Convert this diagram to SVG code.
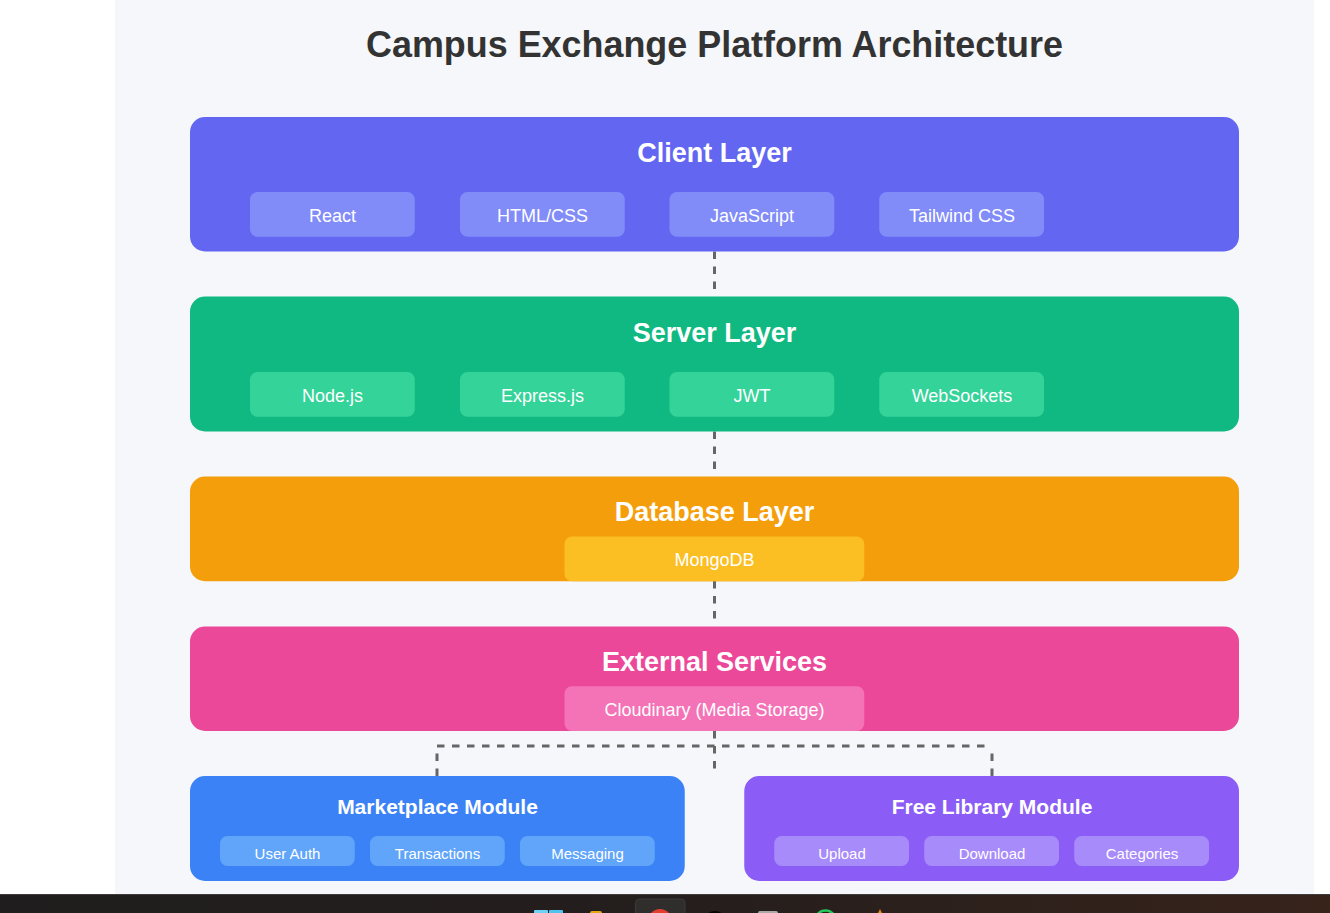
<svg xmlns="http://www.w3.org/2000/svg" width="1330" height="913" viewBox="0 0 1330 913">
<defs>
<linearGradient id="bar" x1="0" x2="1" y1="0" y2="0"><stop offset="0" stop-color="#1f1d1d"/><stop offset="0.5" stop-color="#241e1d"/><stop offset="1" stop-color="#37231a"/></linearGradient>
</defs>
<style>
text{font-family:"Liberation Sans",Arial,sans-serif;text-anchor:middle;fill:#fff}
.t{font-size:27px;font-weight:700}
.i{font-size:18px}
.mt{font-size:21px;font-weight:700}
.mi{font-size:15px}
.c{fill:none;stroke:#666;stroke-width:3;stroke-dasharray:7.5 7.5}
</style>
<rect width="1330" height="913" fill="#fff"/>
<rect x="115" y="0" width="1199" height="894" fill="#f5f7fa"/>
<text x="714.500" y="57" textLength="697" lengthAdjust="spacingAndGlyphs" style="font-size:36px;font-weight:700;fill:#333">Campus Exchange Platform Architecture</text>
<g id="connectors">
<path class="c" d="M714.500 251.500V296.500"/>
<path class="c" d="M714.500 431.500V476.500"/>
<path class="c" d="M714.500 581V626"/>
<path class="c" d="M714.500 731V768.500"/>
<path class="c" d="M437 746H992"/>
<path class="c" d="M437 776V746"/>
<path class="c" d="M992 776V746"/>
</g>
<g id="client-layer">
<rect x="190" y="117" width="1049" height="134.500" rx="15" fill="#6366f1"/>
<text class="t" x="714.500" y="162">Client Layer</text>
<rect x="250" y="192" width="164.750" height="44.750" rx="7.500" fill="#818cf8"/><text class="i" x="332.500" y="222">React</text>
<rect x="460" y="192" width="164.750" height="44.750" rx="7.500" fill="#818cf8"/><text class="i" x="542.500" y="222">HTML/CSS</text>
<rect x="669.500" y="192" width="164.750" height="44.750" rx="7.500" fill="#818cf8"/><text class="i" x="752" y="222">JavaScript</text>
<rect x="879.250" y="192" width="164.750" height="44.750" rx="7.500" fill="#818cf8"/><text class="i" x="962" y="222">Tailwind CSS</text>
</g>
<g id="server-layer">
<rect x="190" y="296.500" width="1049" height="135" rx="15" fill="#10b981"/>
<text class="t" x="714.500" y="342">Server Layer</text>
<rect x="250" y="372" width="164.750" height="44.750" rx="7.500" fill="#34d399"/><text class="i" x="332.500" y="402">Node.js</text>
<rect x="460" y="372" width="164.750" height="44.750" rx="7.500" fill="#34d399"/><text class="i" x="542.500" y="402">Express.js</text>
<rect x="669.500" y="372" width="164.750" height="44.750" rx="7.500" fill="#34d399"/><text class="i" x="752" y="402">JWT</text>
<rect x="879.250" y="372" width="164.750" height="44.750" rx="7.500" fill="#34d399"/><text class="i" x="962" y="402">WebSockets</text>
</g>
<g id="database-layer">
<rect x="190" y="476.500" width="1049" height="104.750" rx="15" fill="#f59e0b"/>
<text class="t" x="714.500" y="521">Database Layer</text>
<rect x="564.500" y="536.500" width="299.750" height="44.750" rx="7.500" fill="#fbbf24"/><text class="i" x="714.500" y="566">MongoDB</text>
</g>
<g id="external-services">
<rect x="190" y="626.500" width="1049" height="104.500" rx="15" fill="#ec4899"/>
<text class="t" x="714.500" y="671">External Services</text>
<rect x="564.500" y="686.250" width="299.750" height="44.750" rx="7.500" fill="#f472b6"/><text class="i" x="714.500" y="716">Cloudinary (Media Storage)</text>
</g>
<g id="marketplace-module">
<rect x="190" y="776" width="494.750" height="105" rx="15" fill="#3b82f6"/>
<text class="mt" x="437.500" y="814">Marketplace Module</text>
<rect x="220" y="836" width="134.750" height="30" rx="7.500" fill="#60a5fa"/><text class="mi" x="287.500" y="859">User Auth</text>
<rect x="370" y="836" width="134.750" height="30" rx="7.500" fill="#60a5fa"/><text class="mi" x="437.500" y="859">Transactions</text>
<rect x="520" y="836" width="134.750" height="30" rx="7.500" fill="#60a5fa"/><text class="mi" x="587.500" y="859">Messaging</text>
</g>
<g id="free-library-module">
<rect x="744.250" y="776" width="494.750" height="105" rx="15" fill="#8b5cf6"/>
<text class="mt" x="992" y="814">Free Library Module</text>
<rect x="774.250" y="836" width="134.750" height="30" rx="7.500" fill="#a78bfa"/><text class="mi" x="842" y="859">Upload</text>
<rect x="924.250" y="836" width="134.750" height="30" rx="7.500" fill="#a78bfa"/><text class="mi" x="992" y="859">Download</text>
<rect x="1074.250" y="836" width="134.750" height="30" rx="7.500" fill="#a78bfa"/><text class="mi" x="1142" y="859">Categories</text>
</g>
<g id="taskbar">
<rect x="0" y="894" width="1330" height="19" fill="url(#bar)"/>
<rect x="0" y="894" width="1330" height="1" fill="#3f3c3b"/>
<rect x="635.500" y="899" width="49.500" height="30" rx="4" fill="#302e2d" stroke="#3d3b3a"/>
<rect x="534" y="910" width="14" height="14" rx="1" fill="#6fd0f5"/>
<rect x="549" y="910" width="14" height="14" rx="1" fill="#4fc3f0"/>
<rect x="590" y="911" width="12" height="6" rx="2" fill="#e3a70f"/>
<circle cx="660" cy="921" r="12" fill="#e2402f"/>
<circle cx="715" cy="923" r="12" fill="#050505"/>
<rect x="758" y="911" width="20" height="8" rx="2" fill="#a9a9a9"/>
<circle cx="825.500" cy="921" r="10.500" fill="none" stroke="#25c65a" stroke-width="2.500"/>
<path d="M878 913L880 909L882 913Z" fill="#e8820e"/>
</g>
</svg>
